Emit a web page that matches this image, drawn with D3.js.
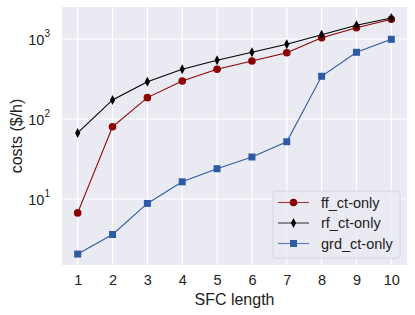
<!DOCTYPE html>
<html>
<head>
<meta charset="utf-8">
<script src="https://cdn.jsdelivr.net/npm/d3@7"></script>
<style>
  body { margin: 0; background: #fff; }
  svg { font-family: "Liberation Sans", Arial, sans-serif; }
</style>
</head>
<body>
<script>
// SFC length values on the x axis
var lengths = [1, 2, 3, 4, 5, 6, 7, 8, 9, 10];

// costs per series ($/h)
var ffCosts  = [6.7, 80, 185, 298, 418, 531, 674, 1038, 1384, 1762];
var rfCosts  = [67, 173, 292, 418, 542, 682, 859, 1132, 1484, 1830];
var grdCosts = [2.05, 3.6, 8.8, 16.4, 23.9, 33.5, 52, 342, 682, 991];

var seriesNames = ['ff_ct-only', 'rf_ct-only', 'grd_ct-only'];
var yTicks = [10, 100, 1000];

var width = 415, height = 315;
var margin = {left: 62, right: 8, top: 7, bottom: 50};

var svg = d3.select('body').append('svg')
    .attr('width', width)
    .attr('height', height);

var x = d3.scaleLinear()
    .domain([0.55, 10.45])
    .range([margin.left, width - margin.right]);

var y = d3.scaleLog()
    .domain([1.496, 2512])
    .range([height - margin.bottom, margin.top]);

/* background and grid */
svg.append('rect')
    .attr('x', margin.left)
    .attr('y', margin.top)
    .attr('width', x.range()[1] - x.range()[0])
    .attr('height', y.range()[0] - y.range()[1])
    .attr('fill', '#eaeaf2');

svg.append('g').selectAll('line').data(lengths).enter().append('line')
    .attr('x1', d => x(d)).attr('x2', d => x(d))
    .attr('y1', margin.top).attr('y2', height - margin.bottom)
    .attr('stroke', '#fff').attr('stroke-width', 1.2);

svg.append('g').selectAll('line').data(yTicks).enter().append('line')
    .attr('x1', margin.left).attr('x2', width - margin.right)
    .attr('y1', d => y(d)).attr('y2', d => y(d))
    .attr('stroke', '#fff').attr('stroke-width', 1.2);

/* axes */
var xAxis = svg.append('g')
    .attr('transform', 'translate(0,' + (height - margin.bottom) + ')')
    .call(d3.axisBottom(x).tickValues(lengths).tickSize(0).tickPadding(10));
xAxis.select('.domain').remove();
xAxis.selectAll('text').attr('font-size', 14.5).attr('fill', '#222')
    .attr('font-family', '"Liberation Sans", Arial, sans-serif');

var yAxis = svg.append('g')
    .attr('transform', 'translate(' + margin.left + ',0)')
    .call(d3.axisLeft(y).tickValues(yTicks).tickSize(0).tickFormat(''));
yAxis.select('.domain').remove();
yAxis.selectAll('.tick').each(function(d) {
    var t = d3.select(this).append('text')
        .attr('x', -12).attr('dy', '0.4em')
        .attr('text-anchor', 'end')
        .attr('fill', '#222')
        .attr('font-size', 14.5)
        .attr('font-family', '"Liberation Sans", Arial, sans-serif');
    t.append('tspan').text('10');
    t.append('tspan').attr('font-size', 10).attr('dy', '-0.8em').text(Math.round(Math.log10(d)));
});

svg.append('text')
    .attr('x', (x.range()[0] + x.range()[1]) / 2)
    .attr('y', 305)
    .attr('text-anchor', 'middle')
    .attr('font-size', 16)
    .attr('fill', '#222')
    .text('SFC length');

svg.append('text')
    .attr('transform', 'translate(22,' + ((y.range()[0] + y.range()[1]) / 2) + ') rotate(-90)')
    .attr('text-anchor', 'middle')
    .attr('font-size', 16)
    .attr('fill', '#222')
    .text('costs ($/h)');

/* series */
var series = [
    {name: seriesNames[0], values: ffCosts, color: '#8b0000', marker: 'circle'},
    {name: seriesNames[1], values: rfCosts, color: '#000000', marker: 'diamond'},
    {name: seriesNames[2], values: grdCosts, color: '#2e5ba6', marker: 'square'}
];

function drawMarker(g, type, color) {
    if (type === 'circle') {
        g.append('circle').attr('r', 3.8).attr('fill', color);
    } else if (type === 'square') {
        g.append('rect').attr('x', -3.5).attr('y', -3.5).attr('width', 7).attr('height', 7).attr('fill', color);
    } else {
        g.append('path').attr('d', 'M0,-5L2.6,0L0,5L-2.6,0Z').attr('fill', color);
    }
}

var line = d3.line().x(d => x(d[0])).y(d => y(d[1]));

series.forEach(function(s) {
    var pts = lengths.map((l, i) => [l, s.values[i]]);
    svg.append('path')
        .datum(pts)
        .attr('d', line)
        .attr('fill', 'none')
        .attr('stroke', s.color)
        .attr('stroke-width', 1.1);
    svg.append('g').selectAll('g').data(pts).enter().append('g')
        .attr('transform', d => 'translate(' + x(d[0]) + ',' + y(d[1]) + ')')
        .each(function() { drawMarker(d3.select(this), s.marker, s.color); });
});

/* legend */
var legend = svg.append('g').attr('transform', 'translate(273,191)');
legend.append('rect')
    .attr('width', 127).attr('height', 67).attr('rx', 3)
    .attr('fill', '#eaeaf2').attr('fill-opacity', 0.8)
    .attr('stroke', '#d0d0d8').attr('stroke-width', 0.8);
series.forEach(function(s, i) {
    var row = legend.append('g').attr('transform', 'translate(0,' + (11.5 + i * 20.5) + ')');
    row.append('line').attr('x1', 5).attr('x2', 36)
        .attr('stroke', s.color).attr('stroke-width', 1.1).attr('opacity', 0.75);
    drawMarker(row.append('g').attr('transform', 'translate(20.5,0)'), s.marker, s.color);
    row.append('text').attr('x', 48).attr('dy', '0.35em')
        .attr('font-size', 14.5).attr('fill', '#222').text(s.name);
});
</script>
</body>
</html>
